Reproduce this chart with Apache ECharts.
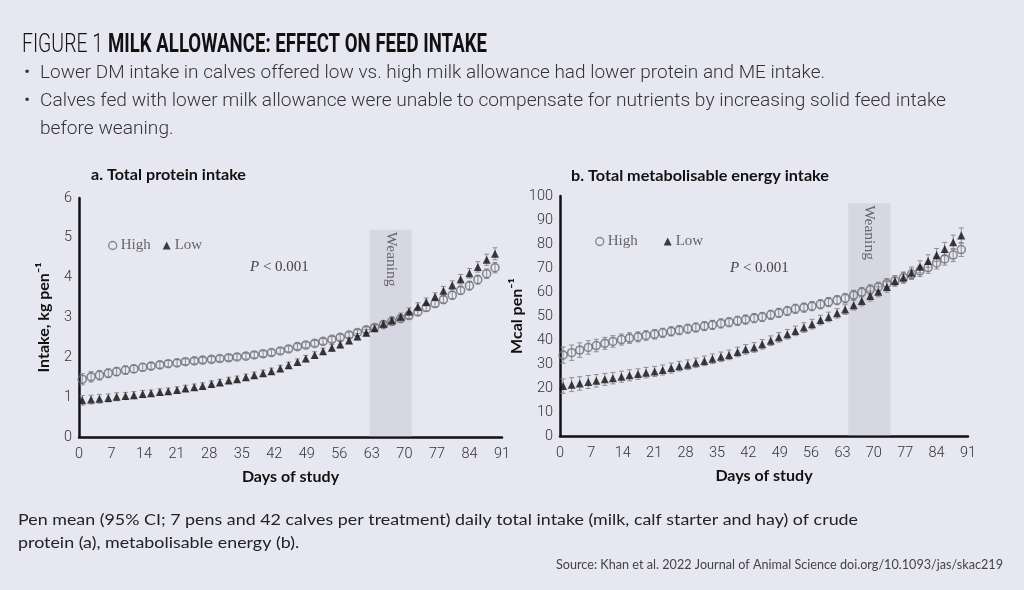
<!DOCTYPE html>
<html><head><meta charset="utf-8">
<script src="https://cdn.jsdelivr.net/npm/echarts@6/dist/echarts.min.js"></script>
<style>html,body{margin:0;padding:0;background:#e7e7f2;}#c{width:1024px;height:590px;}</style>
</head><body><div id="c"></div>
<script>
// ---- data ----
const days = [0.7,2.6,4.4,6.3,8.1,10.0,11.8,13.7,15.5,17.4,19.2,21.1,22.9,24.8,26.6,28.5,30.3,32.2,34.0,35.9,37.7,39.6,41.4,43.3,45.1,47.0,48.8,50.7,52.5,54.4,56.2,58.1,59.9,61.8,63.6,65.5,67.3,69.2,71.0,72.9,74.7,76.6,78.4,80.3,82.1,84.0,85.8,87.7,89.5];
const xTicks = [0,7,14,21,28,35,42,49,56,63,70,77,84,91];
const seriesNames = ['High','Low'];
const proteinHigh = [1.45,1.51,1.55,1.60,1.64,1.68,1.71,1.75,1.78,1.81,
  1.84,1.86,1.89,1.91,1.93,1.95,1.97,1.99,2.01,2.03,
  2.06,2.09,2.12,2.16,2.21,2.27,2.31,2.35,2.40,2.45,
  2.50,2.56,2.62,2.69,2.75,2.82,2.90,2.97,3.05,3.14,
  3.25,3.35,3.45,3.56,3.68,3.80,3.95,4.10,4.25];
const proteinLow = [0.92,0.94,0.96,0.98,1.01,1.03,1.05,1.08,1.10,1.13,
  1.15,1.18,1.22,1.25,1.28,1.33,1.37,1.42,1.45,1.50,
  1.55,1.60,1.65,1.72,1.80,1.88,1.97,2.06,2.15,2.24,
  2.32,2.42,2.52,2.62,2.73,2.84,2.93,3.02,3.15,3.27,
  3.39,3.52,3.67,3.81,3.96,4.11,4.27,4.45,4.60];
const proteinHighCI = [0.14,0.13,0.12,0.11,0.10,0.10,0.09,0.09,0.08,0.08,
  0.08,0.08,0.07,0.07,0.07,0.07,0.07,0.07,0.07,0.07,
  0.07,0.07,0.07,0.07,0.07,0.07,0.07,0.07,0.07,0.07,
  0.07,0.07,0.07,0.07,0.07,0.07,0.08,0.08,0.08,0.08,
  0.09,0.09,0.09,0.10,0.10,0.11,0.11,0.12,0.13];
const proteinLowCI = [0.12,0.11,0.11,0.10,0.10,0.09,0.09,0.09,0.08,0.08,
  0.08,0.08,0.08,0.08,0.08,0.08,0.08,0.08,0.08,0.08,
  0.08,0.08,0.08,0.08,0.08,0.08,0.08,0.08,0.08,0.08,
  0.08,0.08,0.08,0.08,0.08,0.08,0.09,0.09,0.09,0.10,
  0.10,0.10,0.11,0.11,0.12,0.12,0.13,0.14,0.15];
const energyHigh = [33.7,34.7,35.8,36.9,37.7,38.6,39.4,40.2,40.8,41.3,
  41.9,42.4,43.0,43.6,44.1,44.7,45.2,45.8,46.3,46.9,
  47.4,48.0,48.5,49.1,49.6,50.5,51.3,52.1,53.0,53.5,
  54.1,54.9,55.8,56.6,57.4,58.7,59.9,61.0,62.1,63.5,
  64.6,66.0,67.4,68.8,70.2,72.1,73.8,75.4,77.7];
const energyLow = [20.8,21.4,21.9,22.5,23.0,23.6,24.1,24.7,25.3,25.8,
  26.4,26.9,27.5,28.3,29.1,29.7,30.5,31.3,32.2,33.0,
  33.8,35.0,36.1,36.9,38.2,39.7,41.1,42.4,43.8,45.2,
  46.6,48.3,49.6,51.1,52.7,54.5,56.3,58.3,60.1,62.1,
  64.6,66.0,68.0,70.5,72.9,75.4,77.9,80.7,83.5];
const energyHighCI = [3.4,3.2,3.0,2.8,2.6,2.5,2.4,2.3,2.2,2.1,
  2.0,2.0,1.9,1.9,1.9,1.9,1.9,1.9,1.9,1.9,
  1.9,1.9,1.9,1.9,1.9,1.9,1.9,1.9,1.9,1.9,
  1.9,1.9,1.9,1.9,2.0,2.0,2.0,2.0,2.0,2.1,
  2.1,2.2,2.2,2.3,2.4,2.5,2.6,2.7,2.9];
const energyLowCI = [3.0,2.9,2.8,2.7,2.6,2.5,2.4,2.3,2.3,2.2,
  2.2,2.1,2.1,2.1,2.0,2.0,2.0,2.0,2.0,2.0,
  2.0,2.0,2.0,2.0,2.0,2.0,2.0,2.0,2.0,2.0,
  2.0,2.0,2.0,2.0,2.0,2.0,2.1,2.1,2.1,2.2,
  2.2,2.3,2.4,2.5,2.6,2.7,2.8,3.0,3.2];
const weaningA = [62.5, 71.6, 5.2];
const weaningB = [64.3, 73.7, 97];

// ---- texts ----
const titleLight = 'FIGURE 1';
const titleBold = 'MILK ALLOWANCE: EFFECT ON FEED INTAKE';
const bullet1 = 'Lower DM intake in calves offered low vs. high milk allowance had lower protein and ME intake.';
const bullet2a = 'Calves fed with lower milk allowance were unable to compensate for nutrients by increasing solid feed intake';
const bullet2b = 'before weaning.';
const subA = 'a. Total protein intake';
const subB = 'b. Total metabolisable energy intake';
const foot1 = 'Pen mean (95% CI; 7 pens and 42 calves per treatment) daily total intake (milk, calf starter and hay) of crude';
const foot2 = 'protein (a), metabolisable energy (b).';
const source = 'Source: Khan et al. 2022 Journal of Animal Science doi.org/10.1093/jas/skac219';

const mctx = document.createElement('canvas').getContext('2d');
function fit(text, font, w){ mctx.font = font; return w / mctx.measureText(text).width; }

function errRender(params, api){
  const x = api.value(0), lo = api.value(1), hi = api.value(2);
  const p1 = api.coord([x, hi]), p2 = api.coord([x, lo]);
  const w = 2.5;
  const style = {stroke:'#8c8c94', lineWidth:1};
  return {type:'group', children:[
    {type:'line', shape:{x1:p1[0],y1:p1[1],x2:p2[0],y2:p2[1]}, style:style},
    {type:'line', shape:{x1:p1[0]-w,y1:p1[1],x2:p1[0]+w,y2:p1[1]}, style:style},
    {type:'line', shape:{x1:p2[0]-w,y1:p2[1],x2:p2[0]+w,y2:p2[1]}, style:style}
  ]};
}

function xAxisCfg(gi){
  return {type:'value', gridIndex:gi, min:0, max:91, interval:7,
    axisLine:{show:true, onZero:false, lineStyle:{color:'#111', width:2.5}},
    axisTick:{show:false}, splitLine:{show:false},
    axisLabel:{fontFamily:'Roboto', fontWeight:300, fontSize:14.5, color:'#333', margin:10,
      customValues: xTicks},
    name:'Days of study', nameLocation:'middle', nameGap:32,
    nameTextStyle:{fontFamily:'Lato', fontWeight:'bold', fontSize:16, color:'#111'}};
}
function yAxisCfg(gi, max, interval, name, gap){
  return {type:'value', gridIndex:gi, min:0, max:max, interval:interval,
    axisLine:{show:true, lineStyle:{color:'#111', width:2.5}},
    axisTick:{show:false}, splitLine:{show:false},
    axisLabel:{fontFamily:'Roboto', fontWeight:300, fontSize:14.5, color:'#333', margin:7},
    name:name, nameLocation:'middle', nameGap:gap, nameRotate:90,
    nameTextStyle:{fontFamily:'Lato', fontWeight:'bold', fontSize:16, color:'#111'}};
}
function pair(vals){ return days.map((d,i)=>[d, vals[i]]); }
function errs(vals, ci){ return days.map((d,i)=>[d, vals[i]-ci[i], vals[i]+ci[i]]); }

const highStyle = {color:'rgba(0,0,0,0)', borderColor:'#6e6e74', borderWidth:1.6};
function seriesFor(gi, high, low, highCI, lowCI, band){
  return [
    {type:'custom', xAxisIndex:gi, yAxisIndex:gi, renderItem:errRender, data:errs(high, highCI), silent:true, z:2,
      markArea:{silent:true, itemStyle:{color:'rgba(175,175,192,0.28)'},
        data:[[{xAxis:band[0], yAxis:0},{xAxis:band[1], yAxis:band[2]}]]}},
    {type:'custom', xAxisIndex:gi, yAxisIndex:gi, renderItem:errRender, data:errs(low, lowCI), silent:true, z:2},
    {type:'scatter', name:seriesNames[0], xAxisIndex:gi, yAxisIndex:gi, data:pair(high), symbol:'circle', symbolSize:8,
      itemStyle:highStyle, z:3},
    {type:'scatter', name:seriesNames[1], xAxisIndex:gi, yAxisIndex:gi, data:pair(low), symbol:'triangle', symbolSize:8,
      itemStyle:{color:'#111'}, z:4}
  ];
}

const titleFontL = '300 26px Roboto';
const titleFontB = 'bold 26px Roboto';
const bodyFont = '300 19px Roboto';
const footFont = '16px Lato';
const srcFont = '12.5px Lato';
const subFont = 'bold 15px Lato';

function txt(x, y, text, font, w, fill, extra){
  return {type:'text', x:x, y:y, scaleX: w ? fit(text, font, w) : 1,
    style:Object.assign({text:text, font:font, fill:fill, verticalAlign:'middle', align:'left'}, extra||{})};
}
const s2 = fit(bullet2a, bodyFont, 906);
const pText = {text:'{i|P} < 0.001', font:'15px "Liberation Serif"', fill:'#444', verticalAlign:'middle',
     rich:{i:{fontStyle:'italic', fontFamily:'Liberation Serif', fontSize:15, fill:'#444'}}};

const graphics = [
  txt(22, 45, titleLight, titleFontL, 81, '#111'),
  txt(108, 45, titleBold, titleFontB, 379, '#111'),
  txt(24, 73, '•', bodyFont, 0, '#333'),
  txt(40, 73, bullet1, bodyFont, 785, '#333'),
  txt(24, 101, '•', bodyFont, 0, '#333'),
  {type:'text', x:40, y:101, scaleX:s2, style:{text:bullet2a, font:bodyFont, fill:'#333', verticalAlign:'middle'}},
  {type:'text', x:40, y:129, scaleX:s2, style:{text:bullet2b, font:bodyFont, fill:'#333', verticalAlign:'middle'}},
  txt(91, 175, subA, subFont, 155, '#111'),
  txt(571, 176, subB, subFont, 258, '#111'),
  txt(18, 520, foot1, footFont, 840, '#222'),
  {type:'text', x:18, y:543, scaleX:fit(foot1, footFont, 840), style:{text:foot2, font:footFont, fill:'#222', verticalAlign:'middle'}},
  txt(556, 565, source, srcFont, 447, '#444'),
  {type:'text', x:250, y:267, style:pText},
  {type:'text', x:730, y:268, style:Object.assign({}, pText)}
];

const legendData = [{name:'High', icon:'circle', itemStyle:{color:'rgba(0,0,0,0)', borderColor:'#6e6e74', borderWidth:1.4}},
                    {name:'Low', icon:'triangle', itemStyle:{color:'#111'}}];
const chart = echarts.init(document.getElementById('c'), null, {renderer:'canvas'});
const option = {
  backgroundColor:'#e7e7f2',
  animation:false,
  grid:[{left:79, top:198, width:423, height:239},{left:560, top:196, width:408, height:240}],
  xAxis:[xAxisCfg(0), xAxisCfg(1)],
  yAxis:[yAxisCfg(0, 6, 1, 'Intake, kg pen⁻¹', 27), yAxisCfg(1, 100, 10, 'Mcal pen⁻¹', 31)],
  legend:[
    {left:103, top:233, itemWidth:8, itemHeight:8, itemGap:12, data:legendData,
      textStyle:{fontFamily:'Liberation Serif', fontSize:15, color:'#666', padding:[0,0,0,-1]}, selectedMode:false},
    {left:590, top:229, itemWidth:8, itemHeight:8, itemGap:26, data:legendData,
      textStyle:{fontFamily:'Liberation Serif', fontSize:15, color:'#666', padding:[0,0,0,-1]}, selectedMode:false}
  ],
  series:[].concat(seriesFor(0, proteinHigh, proteinLow, proteinHighCI, proteinLowCI, weaningA),
                   seriesFor(1, energyHigh, energyLow, energyHighCI, energyLowCI, weaningB)),
  graphic: graphics
};
chart.setOption(option);
// Weaning labels placed at the top of each band
const pA = chart.convertToPixel({gridIndex:0}, [(weaningA[0]+weaningA[1])/2, weaningA[2]]);
const pB = chart.convertToPixel({gridIndex:1}, [(weaningB[0]+weaningB[1])/2, weaningB[2]]);
function weanLabel(p){ return {type:'text', x:p[0], y:p[1]+2, rotation:-Math.PI/2,
  style:{text:'Weaning', font:'15.5px "Liberation Serif"', fill:'#4a4a4a', align:'left', verticalAlign:'middle'}}; }
chart.setOption({graphic: graphics.concat([weanLabel(pA), weanLabel(pB)])});
</script></body></html>
